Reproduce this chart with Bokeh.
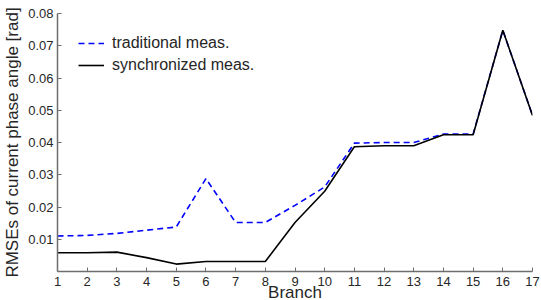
from bokeh.plotting import figure
from bokeh.models import FixedTicker, Legend, LegendItem
from bokeh.embed import file_html
from bokeh.resources import INLINE

branch = list(range(1, 18))
traditional = [0.0110, 0.0112, 0.0118, 0.0128, 0.0138, 0.0288, 0.0152, 0.0152,
               0.0205, 0.0262, 0.0398, 0.0400, 0.0400, 0.0426, 0.0426, 0.0748, 0.0484]
synchronized = [0.0058, 0.0058, 0.0060, 0.0043, 0.0023, 0.0031, 0.0031, 0.0031,
                0.0152, 0.0249, 0.0387, 0.0390, 0.0390, 0.0424, 0.0424, 0.0748, 0.0484]
y_ticks = [0.01, 0.02, 0.03, 0.04, 0.05, 0.06, 0.07, 0.08]
x_ticks = branch

FONT = "Liberation Sans"

p = figure(frame_width=475, frame_height=258, x_range=(1, 17), y_range=(0, 0.08),
           output_backend="svg", toolbar_location=None,
           min_border_left=50, min_border_right=8, min_border_top=13, min_border_bottom=0)
p.outline_line_color = None
p.xgrid.visible = False
p.ygrid.visible = False
p.background_fill_color = "white"
p.border_fill_color = "white"

r1 = p.line(branch, traditional, line_color="#0000ff", line_width=1.6, line_dash="6 4")
r2 = p.line(branch, synchronized, line_color="#000000", line_width=1.6)

for ax in (p.xaxis[0], p.yaxis[0]):
    ax.axis_line_color = "#6e6e6e"
    ax.axis_line_width = 1.5
    ax.major_tick_line_color = "#6e6e6e"
    ax.major_tick_in = 4
    ax.major_tick_out = 0
    ax.minor_tick_line_color = None
    ax.major_label_text_font = FONT
    ax.major_label_text_font_size = "13px"
    ax.major_label_text_color = "#262626"
    ax.axis_label_text_font = FONT
    ax.axis_label_text_font_style = "normal"
    ax.axis_label_text_color = "#262626"

p.xaxis.ticker = FixedTicker(ticks=x_ticks)
p.yaxis.ticker = FixedTicker(ticks=y_ticks)
p.xaxis.major_label_standoff = 5
p.yaxis.major_label_standoff = 4

p.yaxis.axis_label = "RMSEs of current phase angle [rad]"
p.yaxis.axis_label_text_font_size = "17px"
p.yaxis.axis_label_standoff = 3

p.xaxis.axis_label = "Branch"
p.xaxis.axis_label_text_font_size = "17px"
p.xaxis.axis_label_standoff = -6

legend = Legend(items=[LegendItem(label="traditional meas.", renderers=[r1]),
                       LegendItem(label="synchronized meas.", renderers=[r2])],
                location="top_left")
legend.border_line_color = None
legend.background_fill_alpha = 0
legend.margin = 21
legend.padding = 1
legend.spacing = 4
legend.glyph_width = 26
legend.glyph_height = 16
legend.label_height = 16
legend.label_standoff = 8
legend.label_text_font = FONT
legend.label_text_font_size = "16px"
legend.label_text_color = "#262626"
p.add_layout(legend)

open("out.html", "w").write(file_html(p, INLINE))
